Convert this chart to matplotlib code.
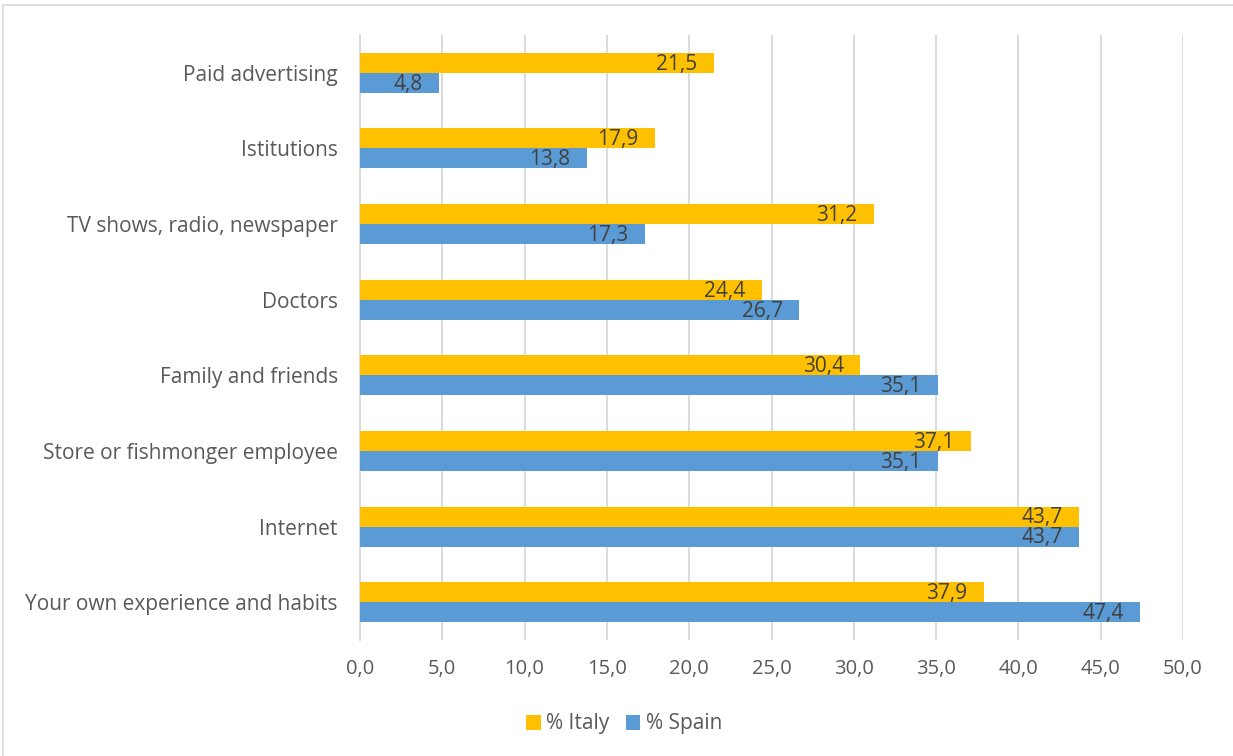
import numpy as np
import matplotlib.pyplot as plt
from matplotlib.patches import Rectangle

plt.rcParams['font.family'] = ['Open Sans', 'DejaVu Sans']

# sources of information, top to bottom
fuentes = ['Paid advertising', 'Istitutions', 'TV shows, radio, newspaper', 'Doctors',
           'Family and friends', 'Store or fishmonger employee', 'Internet',
           'Your own experience and habits']
italia = [21.5, 17.9, 31.2, 24.4, 30.4, 37.1, 43.7, 37.9]
espana = [4.8, 13.8, 17.3, 26.7, 35.1, 35.1, 43.7, 47.4]
ticks_x = [0, 5, 10, 15, 20, 25, 30, 35, 40, 45, 50]

COLOR_IT = '#FFC000'
COLOR_ES = '#5B9BD5'
GRIS_TEXTO = '#595959'
GRIS_GRID = '#D9D9D9'

fig = plt.figure(figsize=(12.33, 7.56), dpi=100)
fig.patches.append(Rectangle((3 / 1233, -0.01), 1.02, 1 - 5 / 756 + 0.01,
                             transform=fig.transFigure, fill=False,
                             edgecolor='#D9D9D9', linewidth=1.2))

ax = fig.add_axes([360 / 1233, 1 - 640 / 756, 823 / 1233, 605 / 756])

y = np.arange(len(fuentes))
alto = 0.265
b_it = ax.barh(y - alto / 2, italia, height=alto, color=COLOR_IT, zorder=3,
               label='% Italy')
b_es = ax.barh(y + alto / 2, espana, height=alto, color=COLOR_ES, zorder=3,
               label='% Spain')

# etiquetas dentro del extremo de cada barra
for barras, valores in ((b_it, italia), (b_es, espana)):
    for barra, v in zip(barras, valores):
        ax.annotate(f'{v:.1f}'.replace('.', ','),
                    xy=(v, barra.get_y() + barra.get_height() / 2),
                    xytext=(-12, -1), textcoords='offset points',
                    ha='right', va='center', fontsize=15, color='#404040',
                    zorder=4)

ax.set_xlim(0, 50)
ax.set_ylim(len(fuentes) - 0.5, -0.5)
ax.set_xticks(ticks_x)
ax.set_xticklabels([f'{t:.1f}'.replace('.', ',') for t in ticks_x])
ax.set_yticks(y)
ax.set_yticklabels(fuentes)
ax.tick_params(axis='x', length=0, pad=14, labelsize=14.5, labelcolor=GRIS_TEXTO)
ax.tick_params(axis='y', length=0, pad=16, labelsize=15, labelcolor=GRIS_TEXTO)

ax.grid(axis='x', color=GRIS_GRID, linewidth=1.3, zorder=0)
for lado in ('top', 'right', 'bottom'):
    ax.spines[lado].set_visible(False)
ax.spines['left'].set_color(GRIS_GRID)
ax.spines['left'].set_linewidth(1.3)

ax.legend(loc='center', bbox_to_anchor=(624 / 1233, 1 - 724 / 756),
          bbox_transform=fig.transFigure, ncol=2, frameon=False,
          fontsize=15, labelcolor=GRIS_TEXTO, handlelength=0.7,
          handleheight=0.7, handletextpad=0.25, columnspacing=0.8)

fig.savefig('out.png', dpi=100)
